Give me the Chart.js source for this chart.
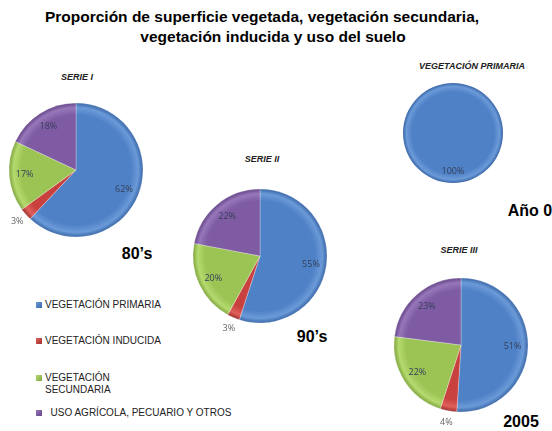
<!DOCTYPE html>
<html>
<head>
<meta charset="utf-8">
<script src="https://cdn.jsdelivr.net/npm/chart.js@4.4.1/dist/chart.umd.min.js"></script>
<style>
  body { margin: 0; background: #fff; }
  #wrap { position: relative; width: 552px; height: 431px; overflow: hidden; font-family: "Liberation Sans", Arial, sans-serif; }
  .pie { position: absolute; }
  .txt { position: absolute; white-space: nowrap; color: #000; }
  .c { transform: translate(-50%, -50%); }
  .t { font-size: 15.5px; font-weight: bold; }
  .serie { font-size: 9px; font-weight: bold; font-style: italic; color: #222; }
  .big { font-size: 16px; font-weight: bold; }
  .leg { font-size: 10px; color: #222; line-height: 12px; }
  .sq { position: absolute; width: 6px; height: 6px; }
</style>
</head>
<body>
<div id="wrap">
  <div class="txt c t" style="left:262px;top:17px;">Proporción de superficie vegetada, vegetación secundaria,</div>
  <div class="txt c t" style="left:273px;top:37px;">vegetación inducida y uso del suelo</div>

  <div class="txt c serie" style="left:77px;top:77px;">SERIE I</div>
  <div class="txt c serie" style="left:262px;top:159px;">SERIE II</div>
  <div class="txt c serie" style="left:472px;top:66px;">VEGETACIÓN PRIMARIA</div>
  <div class="txt c serie" style="left:459px;top:250px;">SERIE III</div>

  <div class="txt c big" style="left:137px;top:254px;">80’s</div>
  <div class="txt c big" style="left:312px;top:337px;">90’s</div>
  <div class="txt c big" style="left:530px;top:211px;">Año 0</div>
  <div class="txt c big" style="left:521px;top:422px;">2005</div>

  <div id="legend"></div>

  <div class="pie" style="left:-14px;top:80px;"><canvas id="pie1" width="180" height="180"></canvas></div>
  <div class="pie" style="left:170px;top:166px;"><canvas id="pie2" width="180" height="180"></canvas></div>
  <div class="pie" style="left:383px;top:63px;"><canvas id="pie0" width="140" height="140"></canvas></div>
  <div class="pie" style="left:371px;top:255px;"><canvas id="pie3" width="180" height="180"></canvas></div>
</div>

<script>
// categorias y series
const categorias = ['VEGETACIÓN PRIMARIA', 'VEGETACIÓN INDUCIDA', 'VEGETACIÓN SECUNDARIA', 'USO AGRÍCOLA, PECUARIO Y OTROS'];
const anio0 = [100, 0, 0, 0];
const serieI = [62, 3, 17, 18];
const serieII = [55, 3, 20, 22];
const serieIII = [51, 4, 22, 23];

const colores = ['#4F81C6', '#C8413F', '#9CC455', '#7E5BA3'];
const claros = ['#6B9AD8', '#E0605C', '#B5DA6E', '#9777BA'];
const oscuros = ['#3A67A8', '#A03230', '#7FA640', '#654688'];

// leyenda a la izquierda
const legendPos = [
    { x: 36, y: 302, text: 'VEGETACIÓN PRIMARIA' },
    { x: 36, y: 338, text: 'VEGETACIÓN INDUCIDA' },
    { x: 36, y: 375, text: 'VEGETACIÓN<br>SECUNDARIA' },
    { x: 36, y: 410, text: '&nbsp;&nbsp;USO AGRÍCOLA, PECUARIO Y OTROS' }
];
let legendHtml = '';
legendPos.forEach((l, i) => {
    legendHtml += `<div class="sq" style="left:${l.x}px;top:${l.y}px;background:linear-gradient(135deg, ${claros[i]}, ${oscuros[i]});"></div>`;
    legendHtml += `<div class="txt leg" style="left:${l.x + 9}px;top:${l.y - 3}px;">${l.text}</div>`;
});
document.getElementById('legend').innerHTML = legendHtml;

// etiquetas de porcentaje
const pctLabels = {
    id: 'pctLabels',
    afterDatasetsDraw(chart) {
        const ctx = chart.ctx;
        const meta = chart.getDatasetMeta(0);
        const data = chart.data.datasets[0].data;
        ctx.save();
        ctx.font = '9px "Open Sans", sans-serif';
        ctx.textAlign = 'center';
        ctx.textBaseline = 'middle';
        meta.data.forEach((arc, i) => {
            const v = data[i];
            if (!v) return;
            const p = arc.getProps(['x', 'y', 'startAngle', 'endAngle', 'outerRadius'], true);
            const mid = (p.startAngle + p.endAngle) / 2;
            const k = v < 5 ? 1.17 : 0.77;
            ctx.fillStyle = v < 5 ? '#666' : '#35405a';
            ctx.fillText(v + '%', p.x + Math.cos(mid) * p.outerRadius * k, p.y + Math.sin(mid) * p.outerRadius * k);
        });
        ctx.restore();
    }
};

function relleno(c) {
    const i = c.dataIndex;
    const a = c.chart.chartArea;
    if (!a || i === undefined) return colores[i || 0];
    const r = c.dataset.radius;
    const cx = (a.left + a.right) / 2, cy = (a.top + a.bottom) / 2;
    const g = c.chart.ctx.createRadialGradient(cx, cy, 0, cx, cy, r);
    g.addColorStop(0, colores[i]);
    g.addColorStop(0.82, colores[i]);
    g.addColorStop(0.93, claros[i]);
    g.addColorStop(1, oscuros[i]);
    return g;
}

function crearPie(id, datos, r) {
    new Chart(document.getElementById(id), {
        type: 'pie',
        data: {
            labels: categorias,
            datasets: [{
                data: datos,
                radius: r,
                backgroundColor: relleno,
                borderColor: 'rgba(255,255,255,0.35)',
                // sin borde en porciones vacías o en el círculo completo
                borderWidth: (c) => (c.raw && c.raw < 100 ? 0.8 : 0)
            }]
        },
        options: {
            responsive: false,
            animation: false,
            layout: { padding: 0 },
            plugins: { legend: { display: false }, tooltip: { enabled: false } }
        },
        plugins: [pctLabels]
    });
}

crearPie('pie1', serieI, 67);
crearPie('pie2', serieII, 67);
crearPie('pie0', anio0, 50);
crearPie('pie3', serieIII, 67);
</script>
</body>
</html>
